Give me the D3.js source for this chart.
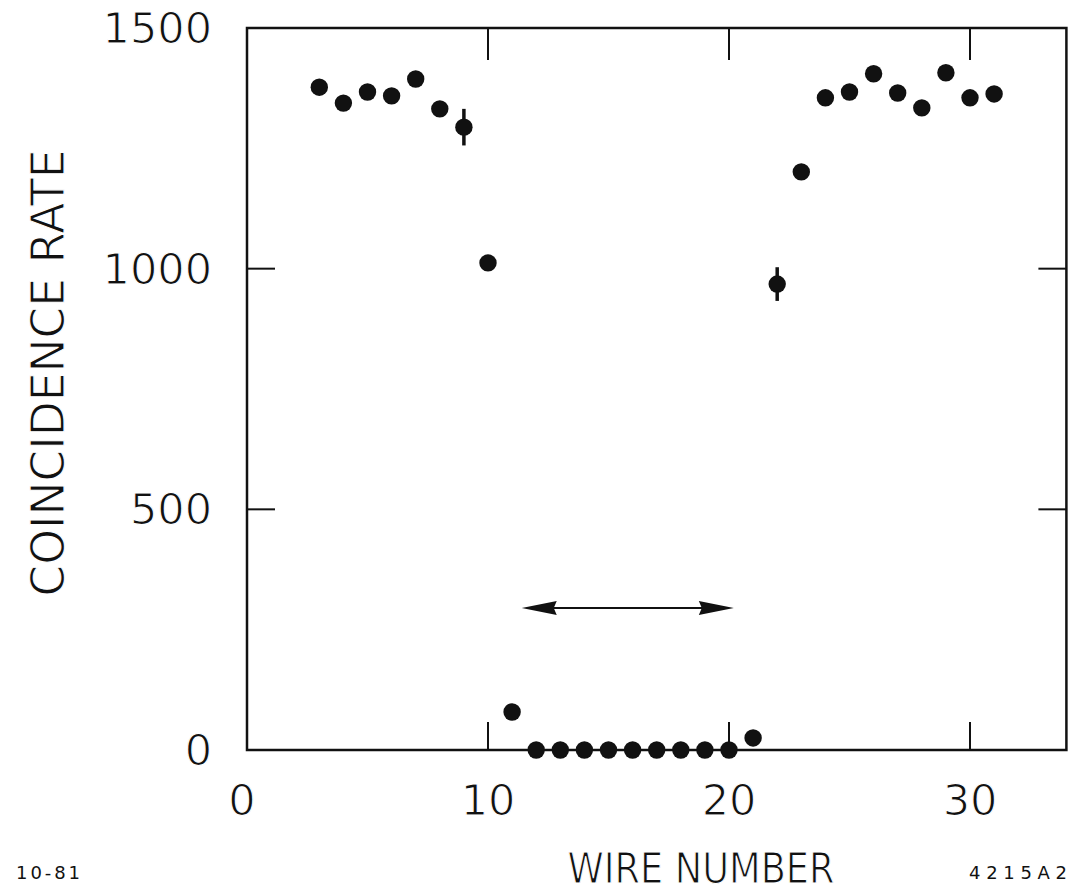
<!DOCTYPE html>
<html>
<head>
<meta charset="utf-8">
<script src="https://cdn.jsdelivr.net/npm/d3@7"></script>
<style>
  body { margin: 0; background: #fff; }
  svg { display: block; }
  text { font-family: "DejaVu Sans", sans-serif; fill: #111; }
  /* thin the glyphs a little, the original lettering is light */
  text.big { stroke: #fff; stroke-width: 1.1px; }
</style>
</head>
<body>
<div id="chart"></div>
<script>
// data
const wires = [3, 4, 5, 6, 7, 8, 9, 10, 11, 12, 13, 14, 15, 16, 17, 18, 19, 20, 21, 22, 23, 24, 25, 26, 27, 28, 29, 30, 31];
const rates = [1377, 1344, 1367, 1359, 1394, 1332, 1294, 1012, 79, 0, 0, 0, 0, 0, 0, 0, 0, 0, 25, 968, 1201, 1355, 1367, 1405, 1365, 1334, 1407, 1355, 1363];
// error bars only on two points
const errWires = [9, 22];
const errSizes = [38, 35];
// the double arrow marking the dead region
const arrowX = [11.4, 20.2];
const arrowY = 295;

const xTicks = [0, 10, 20, 30];
const yTicks = [0, 500, 1000, 1500];

// set up dimensions ("top" clashes with window.top, so keep these in an object)
const svgWidth = 1078,
    svgHeight = 894,
    frame = { left: 247, right: 1066.4, top: 28, bottom: 750 };

const x = d3.scaleLinear().domain([0, 34]).range([frame.left, frame.right]);
const y = d3.scaleLinear().domain([0, 1500]).range([frame.bottom, frame.top]);

const svg = d3.select("#chart")
    .append("svg")
    .attr("width", svgWidth)
    .attr("height", svgHeight);

// frame
svg.append("rect")
    .attr("x", frame.left)
    .attr("y", frame.top)
    .attr("width", frame.right - frame.left)
    .attr("height", frame.bottom - frame.top)
    .attr("fill", "none")
    .attr("stroke", "#111")
    .attr("stroke-width", 2.5);

// inward ticks on all four sides
const tickLen = 28;
const innerX = [10, 20, 30];
const innerY = [500, 1000];

svg.selectAll(".tick-b").data(innerX).join("line")
    .attr("class", "tick-b")
    .attr("x1", d => x(d)).attr("x2", d => x(d))
    .attr("y1", frame.bottom).attr("y2", frame.bottom - tickLen);
svg.selectAll(".tick-t").data(innerX).join("line")
    .attr("class", "tick-t")
    .attr("x1", d => x(d)).attr("x2", d => x(d))
    .attr("y1", frame.top).attr("y2", frame.top + tickLen + 4);
svg.selectAll(".tick-l").data(innerY).join("line")
    .attr("class", "tick-l")
    .attr("x1", frame.left).attr("x2", frame.left + tickLen)
    .attr("y1", d => y(d)).attr("y2", d => y(d));
svg.selectAll(".tick-r").data(innerY).join("line")
    .attr("class", "tick-r")
    .attr("x1", frame.right).attr("x2", frame.right - tickLen)
    .attr("y1", d => y(d)).attr("y2", d => y(d));
svg.selectAll("line")
    .attr("stroke", "#111")
    .attr("stroke-width", 2);

// tick labels
svg.selectAll(".xlab").data(xTicks).join("text")
    .attr("class", "xlab big")
    .attr("x", d => x(d) - (d === 0 ? 5 : 0))
    .attr("y", 815)
    .attr("text-anchor", "middle")
    .attr("font-size", 43)
    .text(d => d);

svg.selectAll(".ylab").data(yTicks).join("text")
    .attr("class", "ylab big")
    .attr("x", 212)
    .attr("y", d => y(d) + 15)
    .attr("text-anchor", "end")
    .attr("font-size", 43)
    .text(d => d);

// axis titles
svg.append("text")
    .attr("class", "big")
    .attr("transform", "translate(64,373) rotate(-90)")
    .attr("text-anchor", "middle")
    .attr("font-size", 47)
    .attr("textLength", 447)
    .attr("lengthAdjust", "spacingAndGlyphs")
    .text("COINCIDENCE RATE");

svg.append("text")
    .attr("class", "big")
    .attr("x", 701)
    .attr("y", 883)
    .attr("text-anchor", "middle")
    .attr("font-size", 42)
    .attr("textLength", 267)
    .attr("lengthAdjust", "spacingAndGlyphs")
    .text("WIRE NUMBER");

// figure codes in the corners
svg.append("text")
    .attr("x", 16)
    .attr("y", 879)
    .attr("font-size", 18)
    .attr("textLength", 64)
    .attr("lengthAdjust", "spacing")
    .text("10-81");

svg.append("text")
    .attr("x", 969)
    .attr("y", 879)
    .attr("font-size", 18)
    .attr("textLength", 98)
    .attr("lengthAdjust", "spacing")
    .text("4215A2");

// error bars
const errs = errWires.map((w, i) => ({ w: w, r: rates[wires.indexOf(w)], e: errSizes[i] }));
svg.selectAll(".err").data(errs).join("line")
    .attr("class", "err")
    .attr("x1", d => x(d.w)).attr("x2", d => x(d.w))
    .attr("y1", d => y(d.r + d.e)).attr("y2", d => y(d.r - d.e))
    .attr("stroke", "#111")
    .attr("stroke-width", 3.5);

// dots
svg.selectAll(".dot").data(wires).join("circle")
    .attr("class", "dot")
    .attr("cx", d => x(d))
    .attr("cy", (d, i) => y(rates[i]))
    .attr("r", 8.7)
    .attr("fill", "#111");

// double headed arrow
const ax0 = x(arrowX[0]), ax1 = x(arrowX[1]), ay = y(arrowY);
svg.append("line")
    .attr("x1", ax0 + 20).attr("x2", ax1 - 20)
    .attr("y1", ay).attr("y2", ay)
    .attr("stroke", "#111")
    .attr("stroke-width", 2.2);

const headLen = 35, headHalf = 7;
svg.append("path")
    .attr("d", `M${ax0},${ay} L${ax0 + headLen},${ay - headHalf} L${ax0 + headLen - 3},${ay} L${ax0 + headLen},${ay + headHalf} Z`)
    .attr("fill", "#111");
svg.append("path")
    .attr("d", `M${ax1},${ay} L${ax1 - headLen},${ay - headHalf} L${ax1 - headLen + 3},${ay} L${ax1 - headLen},${ay + headHalf} Z`)
    .attr("fill", "#111");
</script>
</body>
</html>
